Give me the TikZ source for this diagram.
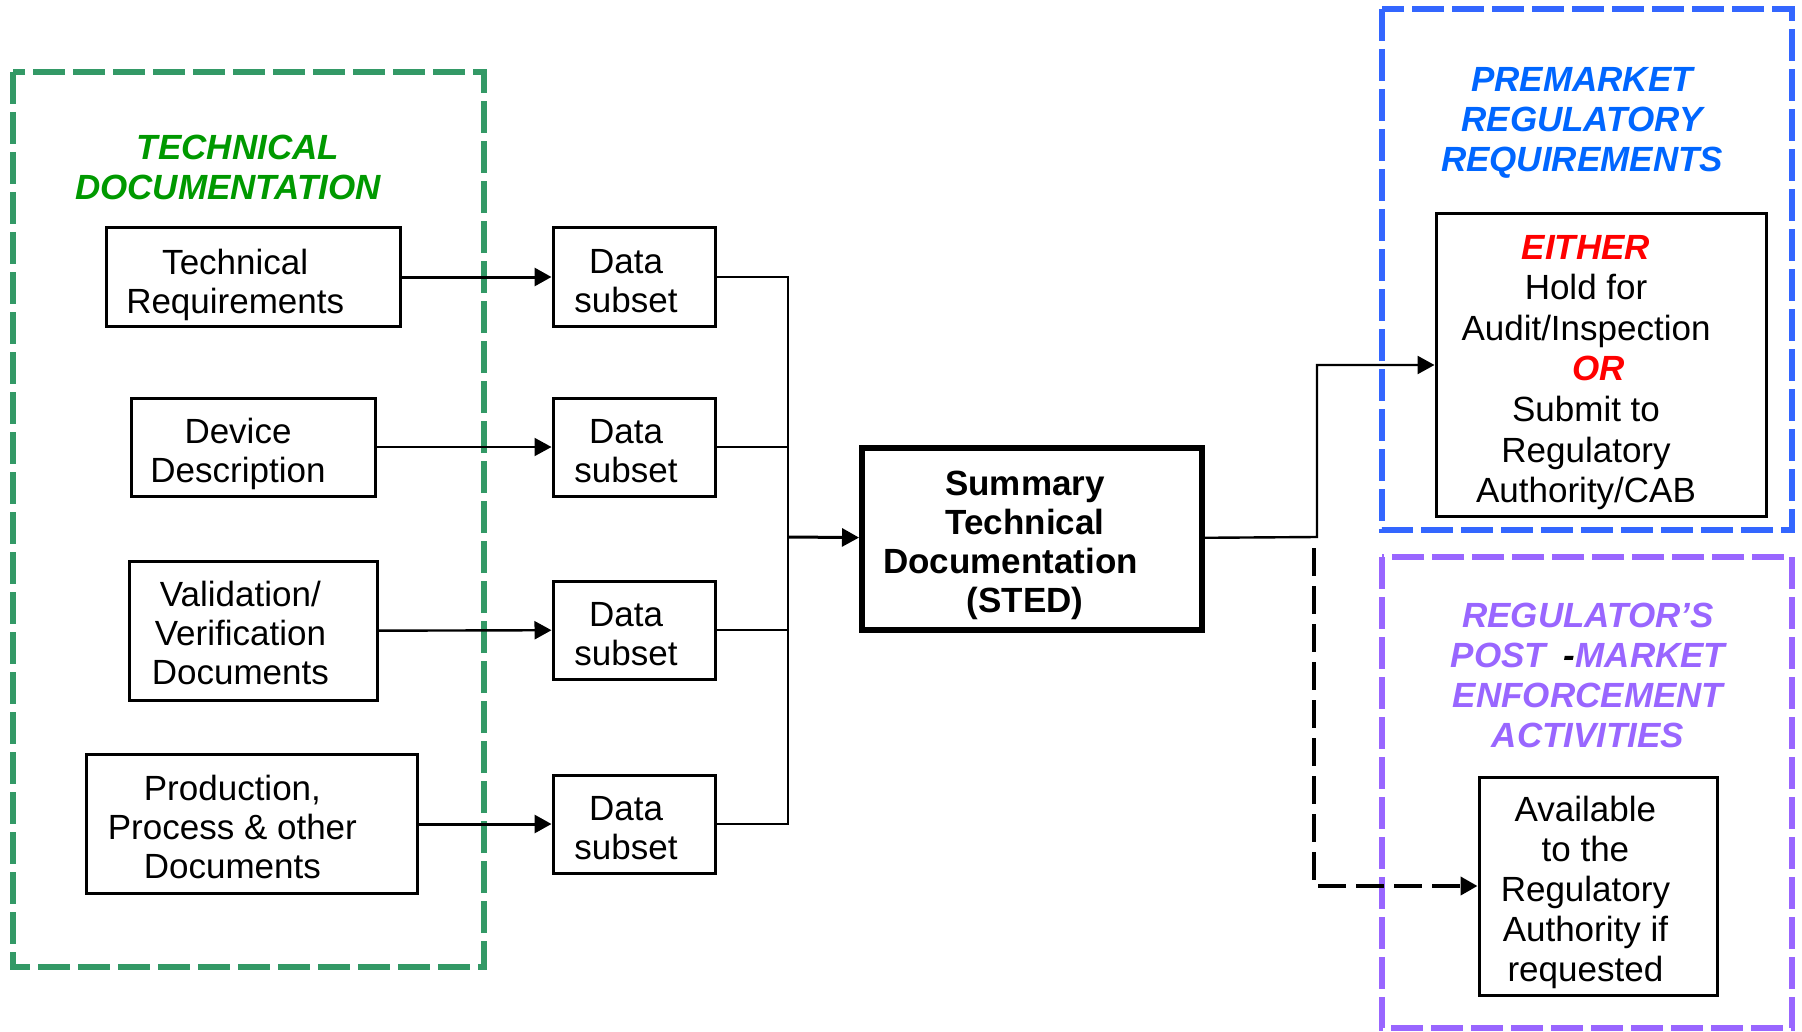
\documentclass[tikz,border=0pt]{standalone}
\usepackage{fontspec}
\setmainfont{Liberation Sans}
\usetikzlibrary{arrows.meta}
\definecolor{docgreen}{RGB}{51,153,102}
\definecolor{titlegreen}{RGB}{0,153,0}
\definecolor{preblue}{RGB}{51,102,255}
\definecolor{pretitle}{RGB}{0,102,255}
\definecolor{postpurple}{RGB}{153,102,255}

\begin{document}
\begin{tikzpicture}[x=0.5pt,y=-0.5pt,
  every node/.style={font=\fontsize{17.5}{19.5}\selectfont, align=center, inner sep=0pt},
  box/.style={draw, line width=1.5pt, minimum height=49pt},
  head/.style={font=\fontsize{17.5}{20}\selectfont\bfseries\itshape},
  frame/.style={line width=3pt, dash pattern=on 16pt off 4pt},
  arr/.style={-{Triangle[length=8.5pt,width=9pt]}}]
\useasboundingbox (0,0) rectangle (1802,1032);

\draw[frame, docgreen] (13,72) rectangle (484,967);
\draw[frame, preblue] (1382,9) rectangle (1792,530);
\draw[frame, postpurple] (1382,557) rectangle (1792,1028);

\node[head, text=titlegreen] (techhead) at (228,167) {\hspace*{10pt}TECHNICAL\\DOCUMENTATION};
\node[head, text=pretitle] (prehead) at (1582,123) {PREMARKET\\REGULATORY\\REQUIREMENTS};
\node[head, text=postpurple] (posthead) at (1588,675) {REGULATOR’S\\POST\hspace{9pt}{\color{black}-}MARKET\\ENFORCEMENT\\ACTIVITIES};

\node[box, minimum width=147pt, label={[xshift=-8.9pt,yshift=-4pt]center:Technical\\Requirements}] (techreq) at (253,277) {};
\node[box, minimum width=122pt, label={[xshift=-7.5pt,yshift=-3.5pt]center:Device\\Description}] (devdesc) at (253,447) {};
\node[box, minimum width=124pt, minimum height=69.5pt, label={[xshift=-6.3pt,yshift=-1.2pt]center:Validation/\\Verification\\Documents}] (valid) at (253,631) {};
\node[box, minimum width=165.5pt, minimum height=69.5pt, label={[xshift=-9.8pt,yshift=-1.7pt]center:Production,\\Process \& other\\Documents}] (prod) at (252,824) {};

\foreach \y/\n in {277/1,447/2,630/3,824/4}
  \node[box, minimum width=81pt, label={[xshift=-4pt,yshift=-2pt]center:Data\\subset}] (data\n) at (634,\y) {};

\node[box, line width=3pt, minimum width=170pt, minimum height=91pt,
  label={[xshift=-3.5pt,yshift=-3pt,font=\fontsize{17.5}{19.5}\selectfont\bfseries]center:Summary\\Technical\\\hspace*{-14.4pt}Documentation\\(STED)}] (sted) at (1032,539) {};

\node[box, minimum width=165pt, minimum height=151.5pt,
  label={[xshift=-7.5pt,yshift=-3.7pt,font=\fontsize{17.5}{20.3}\selectfont]center:{\bfseries\itshape\color{red}EITHER}\\Hold for\\Audit/Inspection\\\hspace*{12.6pt}{\bfseries\itshape\color{red}OR}\\Submit to\\Regulatory\\Authority/CAB}] (either) at (1601,365) {};
\node[box, minimum width=119pt, minimum height=109pt,
  label={[xshift=-6.3pt,yshift=-3pt,font=\fontsize{17.5}{20}\selectfont]center:Available\\to the\\Regulatory\\Authority if\\requested}] (avail) at (1598,886) {};

\draw[arr, line width=1.5pt] (techreq) -- (data1);
\draw[arr, line width=1pt] (devdesc) -- (data2);
\draw[arr, line width=1.2pt] (valid) -- (data3);
\draw[arr, line width=1.5pt] (prod) -- (data4);

\coordinate (bus) at (788,537);
\foreach \n in {1,...,4}
  \draw[line width=1pt] (data\n.east) -| (bus);
\draw[arr, line width=1.5pt] (bus) -- (sted);

\coordinate (split) at (1317,537);
\draw[arr, line width=1.2pt] (sted) -- (split) |- (either);
\coordinate (dstart) at (1314,548);
\draw[arr, line width=2pt, dash pattern=on 14pt off 5pt] (dstart) |- (avail);
\end{tikzpicture}
\end{document}
